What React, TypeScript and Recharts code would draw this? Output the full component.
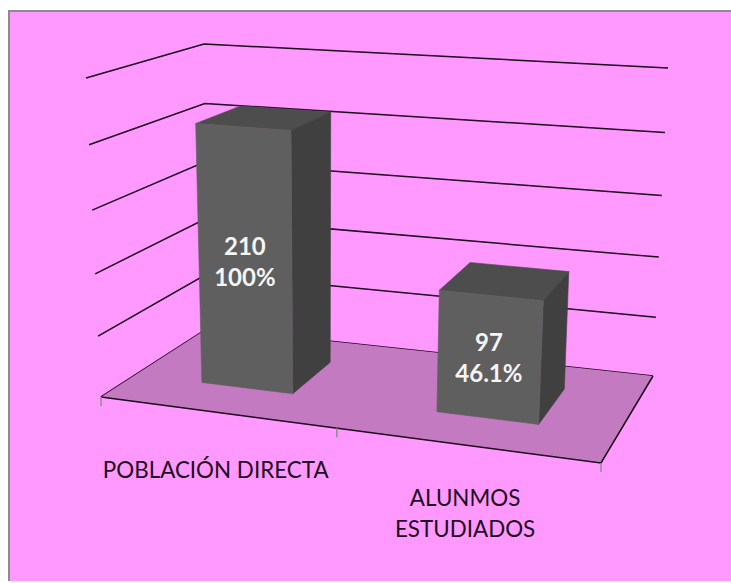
import { BarChart, Bar, XAxis, YAxis, CartesianGrid, LabelList } from 'recharts';

const categories = ['POBLACIÓN DIRECTA', 'ALUNMOS ESTUDIADOS'];
const categoryLines = [['POBLACIÓN DIRECTA'], ['ALUNMOS', 'ESTUDIADOS']];
const values = [210, 97];
const percents = ['100%', '46.1%'];
const yTicks = [0, 50, 100, 150, 200, 250];

const data = categories.map((name, i) => ({ name, value: values[i] }));

const W = 731;
const H = 583;
const PLOT = { left: 100, top: 80, width: 500, height: 320 };

// corners of the 3d box on screen
const FLOOR = { fl: [101, 397], fr: [601, 463], bl: [208, 328], br: [653, 376] };
const ROOF = { fl: [86, 78], fr: [619, 115], bl: [204, 44], br: [668, 68] };
const BAR_DEPTH = [0.33, 0.75];

const lerp = (a: number[], b: number[], t: number) => [a[0] + (b[0] - a[0]) * t, a[1] + (b[1] - a[1]) * t];
const warp = (t: number, k: number) => t / (t + k * (1 - t));

function project(u: number, w: number, v: number) {
  const uu = warp(u, 1.12);
  const vv = warp(v, 1.06);
  const floor = lerp(lerp(FLOOR.fl, FLOOR.fr, uu), lerp(FLOOR.bl, FLOOR.br, uu), w);
  const roof = lerp(lerp(ROOF.fl, ROOF.fr, uu), lerp(ROOF.bl, ROOF.br, uu), w);
  return lerp(floor, roof, vv);
}

const pts = (list: number[][]) => list.map((p) => `${p[0].toFixed(1)},${p[1].toFixed(1)}`).join(' ');
const toU = (x: number) => (x - PLOT.left) / PLOT.width;
const toV = (y: number) => (PLOT.top + PLOT.height - y) / PLOT.height;

function WallLine(props: any) {
  const v = toV(props.y1);
  return (
    <polyline
      key={props.key ?? props.index}
      points={pts([project(0, 0, v), project(0, 1, v), project(1, 1, v)])}
      fill="none"
      stroke="#1a0a1a"
      strokeWidth={1.5}
    />
  );
}

function Box(props: any) {
  const { x, y, width } = props;
  const u0 = toU(x);
  const u1 = toU(x + width);
  const v = toV(y);
  const [d0, d1] = BAR_DEPTH;
  return (
    <g strokeWidth={0.6} strokeLinejoin="round">
      <polygon points={pts([project(u0, d0, v), project(u1, d0, v), project(u1, d1, v), project(u0, d1, v)])} fill="#4d4d4d" stroke="#4d4d4d" />
      <polygon points={pts([project(u1, d0, 0), project(u1, d1, 0), project(u1, d1, v), project(u1, d0, v)])} fill="#404040" stroke="#404040" />
      <polygon points={pts([project(u0, d0, 0), project(u1, d0, 0), project(u1, d0, v), project(u0, d0, v)])} fill="#5f5f5f" stroke="#5f5f5f" />
    </g>
  );
}

function BoxLabel(props: any) {
  const { x, y, width, index, value } = props;
  const [cx, cy] = project(toU(x + width / 2), BAR_DEPTH[0], toV(y) / 2);
  const style = { fontFamily: 'Lato', fontWeight: 700, fontSize: 24 };
  return (
    <text textAnchor="middle" fill="#f5f5f5" style={style}>
      <tspan x={cx} y={cy - 6}>{value}</tspan>
      <tspan x={cx} y={cy + 25}>{percents[index]}</tspan>
    </text>
  );
}

function CategoryTick(props: any) {
  const { x, index } = props;
  const [cx, cy] = project(toU(x), 0, 0);
  const lines = categoryLines[index];
  const first = cy + 66 - (lines.length - 1) * 5;
  return (
    <text textAnchor="middle" fill="#1c0c1c" style={{ fontFamily: 'Lato', fontSize: 22.4 }}>
      {lines.map((line, i) => (
        <tspan key={line} x={cx} y={first + i * 31}>{line}</tspan>
      ))}
    </text>
  );
}

function Floor() {
  const corners = [project(0, 0, 0), project(1, 0, 0), project(1, 1, 0), project(0, 1, 0)];
  const axisTicks = [0, 0.5, 1].map((u) => project(u, 0, 0));
  return (
    <g>
      <polygon points={pts(corners)} fill="#c47ac0" />
      <polyline points={pts([corners[0], corners[1], corners[2]])} fill="none" stroke="#1a0a1a" strokeWidth={1.5} />
      {axisTicks.map((p) => (
        <line key={p[0]} x1={p[0]} y1={p[1]} x2={p[0]} y2={p[1] + 9} stroke="#8c8c8c" strokeWidth={1.5} />
      ))}
    </g>
  );
}

export default function App() {
  const axisHeight = H - PLOT.top - PLOT.height;
  return (
    <div style={{ position: 'absolute', left: 0, top: 0, width: W, height: H, background: '#fff', overflow: 'hidden' }}>
      <div
        style={{
          position: 'absolute',
          left: 8,
          top: 10,
          width: W - 8,
          height: 571,
          boxSizing: 'border-box',
          background: '#ff99ff',
          borderLeft: '2px solid #8c8c8c',
          borderTop: '2px solid #8c8c8c',
        }}
      />
      <div style={{ position: 'absolute', left: 0, top: 0 }}>
        <BarChart
          width={W}
          height={H}
          data={data}
          barCategoryGap="30%"
          margin={{ left: PLOT.left, top: PLOT.top, right: W - PLOT.left - PLOT.width, bottom: 0 }}
        >
          <Floor />
          <CartesianGrid vertical={false} horizontal={WallLine} />
          <XAxis dataKey="name" axisLine={false} tickLine={false} tick={CategoryTick} interval={0} height={axisHeight} />
          <YAxis hide domain={[0, 250]} ticks={yTicks} />
          <Bar dataKey="value" shape={Box} isAnimationActive={false}>
            <LabelList dataKey="value" content={BoxLabel} />
          </Bar>
        </BarChart>
      </div>
    </div>
  );
}
